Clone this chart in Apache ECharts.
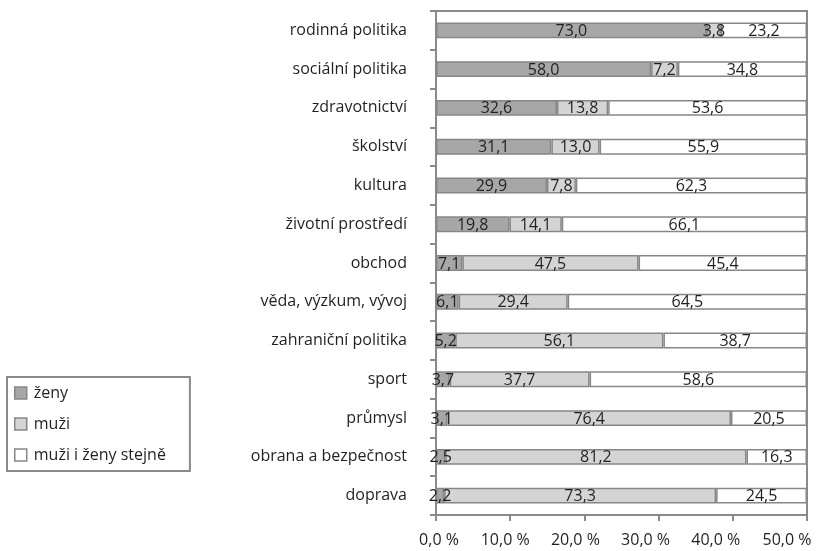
<!DOCTYPE html>
<html>
<head>
<meta charset="utf-8">
<script src="https://cdn.jsdelivr.net/npm/echarts@6/dist/echarts.min.js"></script>
<style>
  html, body { margin: 0; padding: 0; background: #fff; }
  #chart { width: 817px; height: 551px; }
</style>
</head>
<body>
<div id="chart"></div>
<script>
var categories = ['rodinná politika', 'sociální politika', 'zdravotnictví', 'školství', 'kultura',
	'životní prostředí', 'obchod', 'věda, výzkum, vývoj', 'zahraniční politika', 'sport',
	'průmysl', 'obrana a bezpečnost', 'doprava'];
var zeny = [73.0, 58.0, 32.6, 31.1, 29.9, 19.8, 7.1, 6.1, 5.2, 3.7, 3.1, 2.5, 2.2];
var muzi = [3.8, 7.2, 13.8, 13.0, 7.8, 14.1, 47.5, 29.4, 56.1, 37.7, 76.4, 81.2, 73.3];
var stejne = [23.2, 34.8, 53.6, 55.9, 62.3, 66.1, 45.4, 64.5, 38.7, 58.6, 20.5, 16.3, 24.5];
var seriesNames = ['ženy', 'muži', 'muži i ženy stejně'];
var seriesColors = ['#a7a7a9', '#d4d4d6', '#ffffff'];

var fontName = 'Open Sans';
var textColor = '#231f20';
var lineColor = '#8a8a8a';

function comma(v, digits){
	return v.toFixed(digits).replace('.', ',');
}

// the x labels in the original sit a bit left of their ticks, more so to the right
var xLabelShift = [3, -5, -9, -13, -17, -20];
var xRich = {};
for (var i = 0; i < xLabelShift.length; i++) {
	var d = xLabelShift[i];
	xRich['t' + i] = {
		fontFamily: fontName, fontSize: 16, color: textColor,
		padding: d < 0 ? [0, -2 * d, 0, 0] : [0, 0, 0, 2 * d]
	};
}

var myChart = echarts.init(document.getElementById('chart'));

function makeSeries(name, data, color){
	return {
		name: name,
		type: 'bar',
		stack: 'total',
		data: data,
		barWidth: '41%',
		itemStyle: { color: color, borderColor: '#878787', borderWidth: 1.5 },
		label: {
			show: true,
			position: 'inside',
			offset: [0, 1],
			color: textColor,
			fontFamily: fontName,
			fontSize: 16,
			formatter: function(p){ return comma(p.value, 1); }
		}
	};
}

var option = {
	animation: false,
	textStyle: { fontFamily: fontName },
	grid: {
		left: 436, right: 10, top: 11, bottom: 36,
		outerBoundsMode: 'none',
		show: true, borderColor: lineColor, borderWidth: 2
	},
	legend: {
		orient: 'vertical',
		left: 7, top: 377,
		padding: [8, 24, 8, 7],
		itemGap: 15,
		itemWidth: 12, itemHeight: 12,
		icon: 'rect',
		borderColor: lineColor, borderWidth: 2,
		textStyle: { fontFamily: fontName, fontSize: 16, color: textColor, padding: [0, 0, 0, 2] },
		itemStyle: { borderColor: '#878787', borderWidth: 1.5 },
		data: seriesNames
	},
	xAxis: {
		type: 'value',
		min: 0, max: 100, interval: 20,
		axisLine: { show: true, lineStyle: { color: lineColor, width: 2 } },
		axisTick: { show: true, length: 6, lineStyle: { color: lineColor, width: 2 } },
		splitLine: { show: false },
		axisLabel: {
			margin: 17,
			color: textColor, fontFamily: fontName, fontSize: 16,
			formatter: function(v, idx){ return '{t' + idx + '|' + comma(v / 2, 1) + ' %}'; },
			rich: xRich
		}
	},
	yAxis: {
		type: 'category',
		inverse: true,
		data: categories,
		axisLine: { show: true, lineStyle: { color: lineColor, width: 2 } },
		axisTick: { show: true, length: 6, lineStyle: { color: lineColor, width: 2 } },
		axisLabel: { margin: 29, color: textColor, fontFamily: fontName, fontSize: 16 }
	},
	series: [
		makeSeries(seriesNames[0], zeny, seriesColors[0]),
		makeSeries(seriesNames[1], muzi, seriesColors[1]),
		makeSeries(seriesNames[2], stejne, seriesColors[2])
	]
};

myChart.setOption(option);
</script>
</body>
</html>
